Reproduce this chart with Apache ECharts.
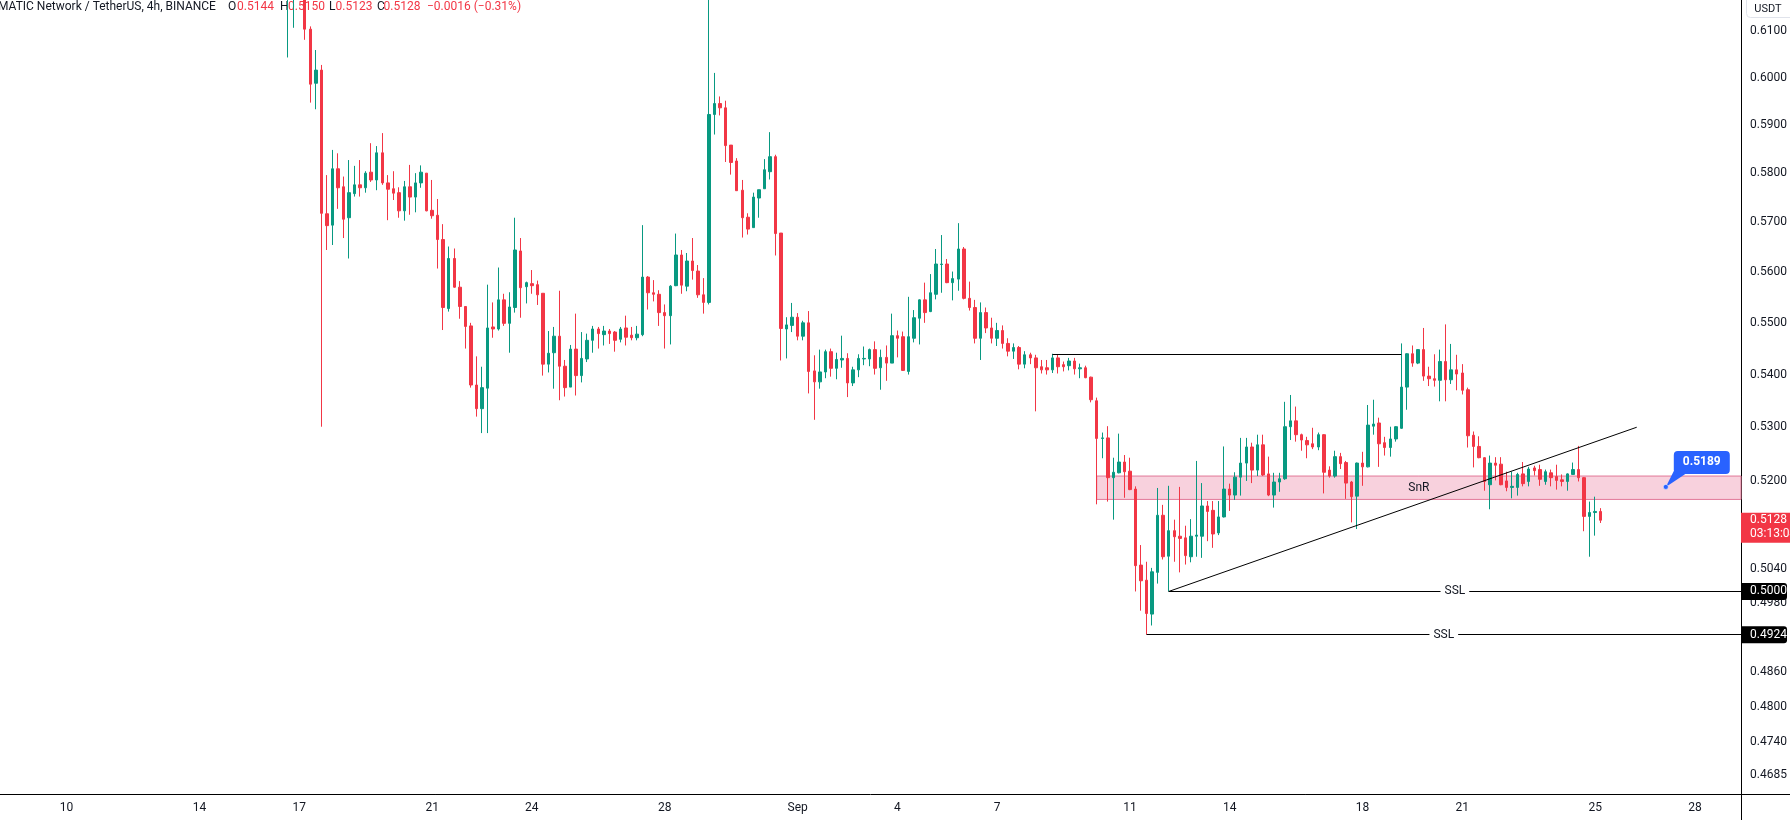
<!DOCTYPE html>
<html><head><meta charset="utf-8">
<script src="https://cdn.jsdelivr.net/npm/echarts@6/dist/echarts.min.js"></script>
<style>html,body{margin:0;padding:0;background:#fff}#c{width:1790px;height:820px}</style>
</head><body><div id="c"></div>
<script>
// ---------------- data ----------------
const symbolTitle = 'MATIC Network / TetherUS, 4h, BINANCE';
const firstCandleTime = '2023-08-16T16:00:00Z'; // 4h candles
const opens = [
 .6200,.6240,.6270,.6240,.6104,.5988,
 .6016,.5717,.5694,.5809,.5772,.5709,
 .5758,.5776,.5770,.5802,.5786,.5842,
 .5780,.5768,.5760,.5723,.5772,.5751,
 .5780,.5800,.5724,.5714,.5665,.5528,
 .5627,.5570,.5532,.5494,.5380,.5335,
 .5374,.5492,.5488,.5545,.5499,.5530,
 .5642,.5571,.5577,.5575,.5558,.5420,
 .5442,.5474,.5416,.5376,.5449,.5398,
 .5430,.5466,.5488,.5477,.5484,.5482,
 .5468,.5490,.5476,.5471,.5477,.5590,
 .5559,.5556,.5520,.5514,.5573,.5634,
 .5572,.5622,.5602,.5555,.5540,.5922,
 .5945,.5936,.5858,.5825,.5765,.5710,
 .5689,.5749,.5768,.5803,.5834,.5678,
 .5488,.5495,.5511,.5474,.5500,.5407,
 .5386,.5405,.5444,.5412,.5428,.5431,
 .5384,.5409,.5430,.5430,.5448,.5413,
 .5433,.5422,.5475,.5473,.5406,.5470,
 .5509,.5545,.5522,.5556,.5615,.5616,
 .5579,.5586,.5646,.5548,.5530,.5470,
 .5520,.5490,.5470,.5485,.5460,.5445,
 .5452,.5420,.5438,.5432,.5415,.5413,
 .5409,.5432,.5419,.5417,.5426,.5411,
 .5413,.5395,.5350,.5279,.5280,.5206,
 .5215,.5235,.5218,.5185,.5047,.5020,
 .4960,.5034,.5137,.5063,.5109,.5099,
 .5096,.5062,.5099,.5099,.5154,.5146,
 .5105,.5134,.5185,.5174,.5207,.5233,
 .5263,.5220,.5267,.5213,.5174,.5198,
 .5204,.5301,.5312,.5286,.5275,.5269,
 .5263,.5286,.5220,.5209,.5245,.5234,
 .5198,.5172,.5233,.5226,.5302,.5308,
 .5271,.5262,.5278,.5298,.5376,.5440,
 .5422,.5448,.5397,.5392,.5389,.5425,
 .5390,.5409,.5403,.5371,.5285,.5264,
 .5243,.5193,.5233,.5231,.5200,.5188,
 .5188,.5213,.5199,.5224,.5221,.5199,
 .5215,.5208,.5202,.5199,.5212,.5221,
 .5206,.5135,.5142,.5144];
const highs = [
 .6300,.6300,.6320,.6260,.6110,.6059,
 .6027,.5796,.5848,.5841,.5793,.5827,
 .5815,.5827,.5804,.5862,.5856,.5883,
 .5796,.5804,.5771,.5784,.5817,.5800,
 .5816,.5800,.5786,.5747,.5696,.5651,
 .5647,.5582,.5532,.5500,.5435,.5415,
 .5575,.5540,.5609,.5557,.5560,.5709,
 .5668,.5581,.5604,.5583,.5558,.5484,
 .5492,.5563,.5428,.5457,.5518,.5482,
 .5479,.5494,.5492,.5494,.5488,.5484,
 .5492,.5514,.5492,.5494,.5694,.5592,
 .5584,.5564,.5536,.5574,.5677,.5644,
 .5638,.5668,.5614,.5588,.6175,.6010,
 .5960,.5951,.5858,.5831,.5786,.5718,
 .5760,.5766,.5829,.5885,.5838,.5678,
 .5511,.5539,.5519,.5504,.5523,.5437,
 .5448,.5448,.5450,.5442,.5475,.5441,
 .5415,.5439,.5454,.5450,.5464,.5448,
 .5456,.5518,.5485,.5483,.5551,.5525,
 .5546,.5579,.5596,.5646,.5674,.5626,
 .5601,.5698,.5650,.5581,.5545,.5540,
 .5530,.5510,.5500,.5495,.5470,.5460,
 .5455,.5445,.5442,.5438,.5428,.5428,
 .5440,.5438,.5425,.5432,.5432,.5421,
 .5417,.5396,.5356,.5290,.5302,.5243,
 .5288,.5248,.5243,.5190,.5083,.5053,
 .5042,.5187,.5156,.5191,.5129,.5189,
 .5118,.5130,.5237,.5196,.5163,.5163,
 .5163,.5264,.5195,.5216,.5280,.5280,
 .5271,.5286,.5286,.5245,.5215,.5215,
 .5348,.5361,.5339,.5288,.5282,.5299,
 .5290,.5287,.5227,.5256,.5252,.5237,
 .5200,.5234,.5254,.5342,.5352,.5318,
 .5282,.5301,.5302,.5460,.5441,.5456,
 .5449,.5490,.5415,.5439,.5448,.5497,
 .5459,.5438,.5420,.5375,.5292,.5283,
 .5244,.5247,.5244,.5244,.5217,.5217,
 .5215,.5235,.5226,.5228,.5230,.5221,
 .5221,.5230,.5212,.5214,.5234,.5265,
 .5207,.5162,.5171,.5150];
const lows = [
 .6043,.6107,.6190,.6081,.5947,.5933,
 .5301,.5644,.5654,.5727,.5668,.5627,
 .5752,.5752,.5760,.5782,.5765,.5776,
 .5704,.5745,.5709,.5703,.5715,.5720,
 .5770,.5722,.5707,.5607,.5486,.5522,
 .5569,.5508,.5450,.5375,.5320,.5289,
 .5289,.5471,.5485,.5494,.5442,.5520,
 .5510,.5538,.5557,.5535,.5398,.5404,
 .5373,.5351,.5358,.5376,.5360,.5385,
 .5424,.5442,.5450,.5456,.5459,.5444,
 .5462,.5456,.5466,.5466,.5474,.5526,
 .5542,.5494,.5450,.5458,.5572,.5557,
 .5562,.5585,.5549,.5518,.5536,.5880,
 .5920,.5823,.5797,.5764,.5669,.5675,
 .5689,.5709,.5768,.5787,.5633,.5427,
 .5431,.5482,.5466,.5466,.5364,.5314,
 .5373,.5393,.5396,.5391,.5413,.5357,
 .5378,.5395,.5418,.5416,.5400,.5371,
 .5388,.5422,.5433,.5407,.5400,.5462,
 .5458,.5500,.5521,.5546,.5559,.5578,
 .5544,.5563,.5546,.5524,.5460,.5428,
 .5480,.5460,.5455,.5450,.5435,.5430,
 .5410,.5412,.5420,.5330,.5402,.5400,
 .5403,.5402,.5406,.5408,.5400,.5393,
 .5393,.5347,.5157,.5242,.5162,.5129,
 .5214,.5169,.5183,.5000,.4966,.4924,
 .4940,.5014,.5057,.5000,.5053,.5034,
 .5048,.5052,.5062,.5060,.5090,.5078,
 .5101,.5133,.5145,.5165,.5173,.5200,
 .5196,.5209,.5209,.5172,.5151,.5180,
 .5202,.5276,.5273,.5256,.5242,.5259,
 .5257,.5177,.5206,.5206,.5222,.5167,
 .5124,.5112,.5191,.5225,.5286,.5226,
 .5247,.5245,.5273,.5297,.5333,.5415,
 .5420,.5388,.5378,.5377,.5349,.5349,
 .5382,.5370,.5362,.5262,.5225,.5242,
 .5182,.5148,.5201,.5192,.5181,.5168,
 .5173,.5190,.5190,.5210,.5191,.5193,
 .5190,.5184,.5190,.5182,.5211,.5199,
 .5108,.5062,.5100,.5123];
const closes = [
 .6250,.6270,.6240,.6104,.5986,.6016,
 .5718,.5693,.5809,.5770,.5706,.5760,
 .5776,.5770,.5800,.5786,.5842,.5780,
 .5767,.5759,.5723,.5772,.5751,.5780,
 .5802,.5723,.5713,.5665,.5530,.5627,
 .5570,.5532,.5493,.5380,.5335,.5375,
 .5490,.5488,.5545,.5499,.5531,.5644,
 .5569,.5579,.5573,.5555,.5420,.5441,
 .5474,.5416,.5375,.5449,.5398,.5431,
 .5466,.5488,.5479,.5484,.5479,.5466,
 .5488,.5472,.5471,.5478,.5590,.5559,
 .5556,.5520,.5514,.5572,.5634,.5574,
 .5622,.5603,.5555,.5540,.5922,.5945,
 .5936,.5857,.5822,.5764,.5709,.5686,
 .5751,.5766,.5807,.5834,.5677,.5489,
 .5496,.5511,.5474,.5500,.5406,.5386,
 .5405,.5444,.5412,.5429,.5431,.5384,
 .5409,.5431,.5431,.5448,.5412,.5433,
 .5422,.5475,.5470,.5408,.5473,.5510,
 .5545,.5520,.5559,.5616,.5616,.5579,
 .5587,.5646,.5548,.5530,.5470,.5520,
 .5490,.5470,.5485,.5460,.5445,.5452,
 .5420,.5438,.5432,.5413,.5409,.5409,
 .5432,.5415,.5415,.5426,.5411,.5413,
 .5394,.5352,.5279,.5280,.5206,.5216,
 .5235,.5217,.5184,.5046,.5019,.4961,
 .5035,.5137,.5062,.5109,.5098,.5095,
 .5064,.5099,.5101,.5154,.5144,.5103,
 .5134,.5185,.5174,.5207,.5233,.5263,
 .5220,.5267,.5211,.5174,.5198,.5204,
 .5301,.5312,.5286,.5276,.5267,.5263,
 .5286,.5216,.5209,.5245,.5232,.5196,
 .5171,.5233,.5226,.5304,.5306,.5269,
 .5262,.5278,.5301,.5376,.5440,.5422,
 .5448,.5397,.5392,.5389,.5425,.5390,
 .5409,.5401,.5370,.5284,.5264,.5243,
 .5199,.5233,.5229,.5193,.5188,.5190,
 .5212,.5195,.5222,.5219,.5203,.5217,
 .5206,.5201,.5199,.5213,.5221,.5206,
 .5135,.5142,.5144,.5128];

// axis ticks
const dayTicks = ['2023-08-10','2023-08-14','2023-08-17','2023-08-21','2023-08-24','2023-08-28',
  '2023-09-01','2023-09-04','2023-09-07','2023-09-11','2023-09-14','2023-09-18','2023-09-21','2023-09-25','2023-09-28'];
const priceTicks = [0.61,0.60,0.59,0.58,0.57,0.56,0.55,0.54,0.53,0.52,0.504,0.498,0.486,0.48,0.474,0.4685];

// drawings
const eqHigh = {price:0.5440, from:'2023-09-08T16:00:00Z', to:'2023-09-19T04:00:00Z'};
const trend = {from:['2023-09-12T04:00:00Z',0.5000], to:['2023-09-26T06:00:00Z',0.5300]};
const sslLevels = [{price:0.5000, from:'2023-09-12T04:00:00Z', text:'SSL'},
                   {price:0.4924, from:'2023-09-11T12:00:00Z', text:'SSL'}];
const snrZone = {from:'2023-09-10T00:00:00Z', top:0.5209, bottom:0.5166, text:'SnR'};
const callout = {time:'2023-09-27T03:00:00Z', price:0.5189};
const countdown = '03:13:04';

// ---------------- chart ----------------
const FONT = 'Roboto, "Liberation Sans", sans-serif';
const H4 = 4*3600*1000, DAY = 864e5;
const T0 = Date.parse(firstCandleTime);
const times = opens.map((_, i) => T0 + i*H4);
const candles = times.map((t, i) => [t, opens[i], closes[i], lows[i], highs[i]]);
const AX0 = Date.parse('2023-08-10T00:00:00Z');
const xMin = AX0 - 2.0042*DAY, xMax = AX0 + 50.388*DAY;
const yMin = 0.46533, yMax = 0.61675;
const UP = '#089981', DOWN = '#F23645', INK = '#131722';
const MONTHS = ['Jan','Feb','Mar','Apr','May','Jun','Jul','Aug','Sep','Oct','Nov','Dec'];
const last = closes.length - 1;
const lastClose = closes[last];
const chg = closes[last] - closes[last-1];
const pct = chg / closes[last-1] * 100;
const fmt4 = v => v.toFixed(4);
const minus = s => s.replace('-', '\u2212');
const tickMs = dayTicks.map(d => Date.parse(d + 'T00:00:00Z'));

const badges = [
  {price:lastClose, bg:DOWN, sub:countdown},
  {price:sslLevels[0].price, bg:'#000000'},
  {price:sslLevels[1].price, bg:'#000000'}
];

const chart = echarts.init(document.getElementById('c'));
const sslLabel = {show:true, position:'middle', distance:0, verticalAlign:'middle', color:INK,
  fontSize:12, fontFamily:FONT, backgroundColor:'#ffffff', padding:[1,4], formatter:'SSL'};
const HF = '12px ' + FONT;

const option = {
  animation:false,
  backgroundColor:'#ffffff',
  grid:{left:0, right:49, top:0, bottom:26, containLabel:false},
  xAxis:{
    type:'value', min:xMin, max:xMax, scale:true,
    axisLine:{show:true, onZero:false, lineStyle:{color:'#000000', width:1}},
    axisTick:{show:false}, splitLine:{show:false},
    axisLabel:{
      customValues: tickMs,
      formatter: v => { const d = new Date(v); return d.getUTCDate() === 1 ? MONTHS[d.getUTCMonth()] : String(d.getUTCDate()); },
      color:INK, fontSize:12, fontFamily:FONT, margin:8, hideOverlap:false
    }
  },
  yAxis:{
    type:'log', logBase:10, position:'right', min:yMin, max:yMax,
    axisLine:{show:true, lineStyle:{color:'#000000', width:1}},
    axisTick:{show:false}, splitLine:{show:false},
    axisLabel:{customValues: priceTicks, formatter: v => fmt4(v), color:INK, fontSize:12,
      fontFamily:FONT, margin:9, hideOverlap:false}
  },
  series:[
    {
      type:'candlestick', data:candles, barWidth:3, clip:true,
      itemStyle:{color:UP, color0:DOWN, borderColor:UP, borderColor0:DOWN, borderWidth:1},
      markArea:{
        silent:true,
        itemStyle:{color:'#f8d1dd', borderColor:'#e27898', borderWidth:1},
        label:{show:true, position:'inside', color:INK, fontSize:12, fontFamily:FONT},
        data:[[{name:snrZone.text, coord:[Date.parse(snrZone.from), snrZone.top]}, {coord:[xMax, snrZone.bottom]}]]
      },
      markLine:{
        silent:true, symbol:['none','none'], animation:false,
        lineStyle:{color:'#000000', width:1, type:'solid'},
        label:{show:false},
        data:[
          [{coord:[Date.parse(eqHigh.from), eqHigh.price]}, {coord:[Date.parse(eqHigh.to), eqHigh.price]}],
          [{coord:[Date.parse(trend.from[0]), trend.from[1]]}, {coord:[Date.parse(trend.to[0]), trend.to[1]]}],
          [{coord:[Date.parse(sslLevels[0].from), sslLevels[0].price], label:sslLabel}, {coord:[xMax, sslLevels[0].price]}],
          [{coord:[Date.parse(sslLevels[1].from), sslLevels[1].price], label:sslLabel}, {coord:[xMax, sslLevels[1].price]}]
        ]
      }
    },
    {
      type:'custom', coordinateSystem:'cartesian2d', clip:false, z:20, silent:true,
      data: badges.map(b => [xMax, b.price]),
      renderItem(params, api) {
        const b = badges[params.dataIndex];
        const y = api.coord([api.value(0), api.value(1)])[1];
        const x0 = params.coordSys.x + params.coordSys.width;
        if (b.sub) {
          return {type:'group', children:[
            {type:'rect', shape:{x:x0, y:y-7.5, width:49, height:30}, style:{fill:b.bg}},
            {type:'text', style:{x:x0+9, y:y, text:fmt4(b.price), fill:'#ffffff', font:'12px ' + FONT, align:'left', verticalAlign:'middle'}},
            {type:'text', style:{x:x0+9, y:y+14, text:b.sub, fill:'#ffffff', font:'12px ' + FONT, align:'left', verticalAlign:'middle'}}
          ]};
        }
        return {type:'group', children:[
          {type:'rect', shape:{x:x0, y:y-8.5, width:46, height:17, r:[0,3,3,0]}, style:{fill:b.bg}},
          {type:'text', style:{x:x0+9, y:y, text:fmt4(b.price), fill:'#ffffff', font:'12px ' + FONT, align:'left', verticalAlign:'middle'}}
        ]};
      }
    },
    {
      type:'custom', coordinateSystem:'cartesian2d', clip:false, z:20, silent:true,
      data:[[Date.parse(callout.time), callout.price]],
      renderItem(params, api) {
        const p = api.coord([api.value(0), api.value(1)]);
        const x = p[0], y = p[1];
        return {type:'group', children:[
          {type:'polygon', shape:{points:[[x,y],[x+8,y-16],[x+21,y-14]]}, style:{fill:'#2962FF'}},
          {type:'rect', shape:{x:x+8, y:y-36, width:56, height:23, r:4}, style:{fill:'#2962FF'}},
          {type:'text', style:{x:x+36, y:y-24.5, text:fmt4(api.value(1)), fill:'#ffffff', font:'bold 12px ' + FONT, align:'center', verticalAlign:'middle'}},
          {type:'circle', shape:{cx:x, cy:y, r:2.5}, style:{fill:'#2962FF', stroke:'#ffffff', lineWidth:0.5}}
        ]};
      }
    }
  ],
  graphic:[
    {type:'text', x:-2, y:7, style:{text:symbolTitle, fill:INK, font:HF, verticalAlign:'middle'}},
    {type:'text', x:228, y:7, style:{text:'O', fill:INK, font:HF, verticalAlign:'middle'}},
    {type:'text', x:237, y:7, style:{text:fmt4(opens[last]), fill:DOWN, font:HF, verticalAlign:'middle'}},
    {type:'text', x:280, y:7, style:{text:'H', fill:INK, font:HF, verticalAlign:'middle'}},
    {type:'text', x:288, y:7, style:{text:fmt4(highs[last]), fill:DOWN, font:HF, verticalAlign:'middle'}},
    {type:'text', x:329, y:7, style:{text:'L', fill:INK, font:HF, verticalAlign:'middle'}},
    {type:'text', x:335.5, y:7, style:{text:fmt4(lows[last]), fill:DOWN, font:HF, verticalAlign:'middle'}},
    {type:'text', x:377, y:7, style:{text:'C', fill:INK, font:HF, verticalAlign:'middle'}},
    {type:'text', x:383.5, y:7, style:{text:fmt4(closes[last]), fill:DOWN, font:HF, verticalAlign:'middle'}},
    {type:'text', x:427, y:7, style:{text:minus(chg.toFixed(4)) + ' (' + minus(pct.toFixed(2)) + '%)', fill:DOWN, font:HF, verticalAlign:'middle'}},
    {type:'rect', x:1746.5, y:-5.5, shape:{width:50, height:23, r:4}, style:{fill:'#ffffff', stroke:'#e0e3eb', lineWidth:1}, z:30},
    {type:'text', x:1768, y:9, style:{text:'USDT', fill:INK, font:'11px ' + FONT, align:'center', verticalAlign:'middle'}, z:31},
    {type:'line', shape:{x1:1741.5, y1:794, x2:1741.5, y2:820}, style:{stroke:'#000000', lineWidth:1}},
    {type:'line', shape:{x1:1741, y1:794.5, x2:1790, y2:794.5}, style:{stroke:'#000000', lineWidth:1}}
  ]
};
chart.setOption(option);
</script></body></html>
